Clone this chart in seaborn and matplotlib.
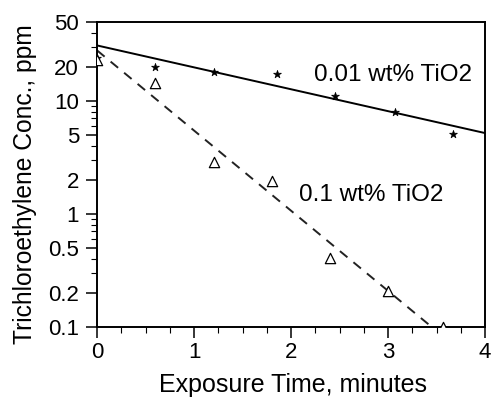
import matplotlib
matplotlib.use("Agg")
import matplotlib.pyplot as plt
import seaborn as sns
import pandas as pd
from matplotlib.ticker import FixedLocator, FixedFormatter, LogLocator, MultipleLocator

# data
time_low = [0.0, 0.6, 1.2, 1.85, 2.45, 3.07, 3.67]
conc_low = [24, 20, 18, 17.5, 11, 8, 5.1]          # 0.01 wt% TiO2 (stars)
time_high = [0.0, 0.6, 1.2, 1.8, 2.4, 3.0, 3.57]
conc_high = [23, 14.5, 2.9, 1.95, 0.41, 0.21, 0.1]  # 0.1 wt% TiO2 (triangles)

# fitted lines (end points)
fit_low_x = [0.0, 4.0]
fit_low_y = [31, 5.2]
fit_high_x = [0.0, 3.45]
fit_high_y = [28, 0.1]

ytick_vals = [0.1, 0.2, 0.5, 1, 2, 5, 10, 20, 50]
ytick_labels = ["0.1", "0.2", "0.5", "1", "2", "5", "10", "20", "50"]

sns.set_style("ticks")
plt.rcParams['font.family'] = ['Liberation Sans', 'DejaVu Sans']
plt.rcParams['text.color'] = 'black'
plt.rcParams['axes.labelcolor'] = 'black'

fig = plt.figure(figsize=(4.93, 4.0), dpi=100)
ax = fig.add_axes([0.197, 0.1825, 0.787, 0.7625])

df_low = pd.DataFrame({'t': time_low, 'c': conc_low})
df_high = pd.DataFrame({'t': time_high, 'c': conc_high})

sns.lineplot(x=fit_low_x, y=fit_low_y, ax=ax, color='black', linewidth=1.4)
sns.lineplot(x=fit_high_x, y=fit_high_y, ax=ax, color='#222222', linewidth=1.4,
             linestyle=(0, (5, 4)))
sns.scatterplot(data=df_low, x='t', y='c', ax=ax, marker='*', s=35,
                color='black', edgecolor='black', linewidth=0.5, zorder=3)
sns.scatterplot(data=df_high, x='t', y='c', ax=ax, marker='^', s=55,
                facecolor='white', edgecolor='black', linewidth=0.9, zorder=3)

ax.set_yscale('log')
ax.set_xlim(0, 4)
ax.set_ylim(0.1, 50)
ax.yaxis.set_major_locator(FixedLocator(ytick_vals))
ax.yaxis.set_major_formatter(FixedFormatter(ytick_labels))
ax.yaxis.set_minor_locator(LogLocator(base=10, subs=range(1, 10)))
ax.xaxis.set_major_locator(MultipleLocator(1))
ax.xaxis.set_minor_locator(MultipleLocator(0.25))

ax.tick_params(which='major', direction='out', length=8, width=1.1, labelsize=16,
               color='black', labelcolor='black', pad=5)
ax.tick_params(axis='x', which='major', pad=3)
ax.tick_params(which='minor', direction='out', length=4, width=0.8, color='black')
for s in ax.spines.values():
    s.set_linewidth(1.4)
    s.set_color('black')

ax.set_xlabel('Exposure Time, minutes', fontsize=18, color='black')
ax.set_ylabel('Trichloroethylene Conc., ppm', fontsize=17.7, color='black')
ax.xaxis.set_label_coords(0.504, -0.15)
ax.yaxis.set_label_coords(-0.155, 0.469)

ax.text(2.24, 17, '0.01 wt% TiO2', fontsize=17.5, va='center', ha='left', color='black')
ax.text(2.08, 1.47, '0.1 wt% TiO2', fontsize=17.5, va='center', ha='left', color='black')

fig.savefig('out.png', dpi=100)
